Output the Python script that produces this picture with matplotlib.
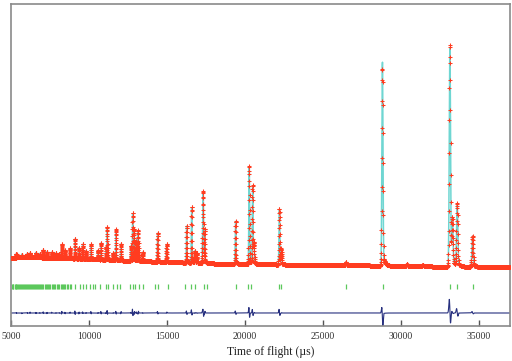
import numpy as np
import matplotlib.pyplot as plt

plt.rcParams['font.family'] = ['Liberation Serif', 'DejaVu Serif']

# background level (time of flight in us, intensity)
bg_tof = [5000, 6000, 7000, 8000, 9000, 10000, 12000, 14000, 16000, 18000,
          20000, 24000, 28000, 32000, 37000]
bg_int = [10.5, 10.5, 10.5, 10, 9.5, 9, 7.5, 6.5, 5.5, 4.5, 4, 3, 2.5, 1.5, 1]

# peaks: position, observed height, calculated height, calc position offset
peak_tof = [5350, 5700, 6050, 6220, 6600, 6850, 7071, 7308, 7609, 7885, 8100,
            8250, 8462, 8782, 9103, 9359, 9596, 9808, 10128, 10577, 10769,
            11090, 11173, 11558, 11731, 12051, 12692, 12801, 12904, 13045,
            13160, 13442, 14404, 14981, 16263, 16583, 16795, 16923, 17288,
            17327, 17420, 19403, 20276, 20494, 20576, 22212, 22330, 26474,
            28817, 30388, 31413, 33143, 33303, 33611, 34599]
peak_obs = [4, 3, 4, 5, 5, 4, 8, 6, 6, 5, 4,
            14, 8, 10, 20, 11, 15, 8, 15, 9, 17,
            13, 33, 7, 31, 17, 15, 48, 32, 20,
            31, 9, 29, 18, 37, 56, 12, 10, 25,
            67, 33, 43, 98, 79, 20, 56, 15, 3,
            198, 2, 1.5, 222, 45, 63, 31]
peak_calc = [4, 3.5, 4, 4.5, 5, 4, 7.5, 6, 5.5, 5, 4,
             13.5, 8, 9.5, 19.5, 11, 14.5, 8, 14.5, 9, 16.5,
             13, 32, 7, 30.5, 16.5, 15, 47, 32, 19.5,
             30.5, 9, 28.5, 17.5, 36.5, 55, 12, 10, 24.5,
             66, 32.5, 42.5, 97, 78, 20, 55, 15, 3,
             204, 2, 1.5, 219, 44, 62, 30.5]
peak_shift = [1, -1, 1, -1.5, 1.5, -1, 1.5, -1.5, 1, -1, 1,
              -1.5, 1.5, -1, 1.5, -1.5, 1, -1, 1.5, -1, 1.5,
              -1, 1.2, -1, 1, -1.5, 1, 1.7, -1.2, 1,
              -1.2, 1, 1.2, -1, 1.5, 1.5, -1, 1, 1.5,
              2, -1.5, 1.5, 2, 1.5, -1, 2.4, -1, 1,
              2.5, 1, 0.5, 3.5, 1.5, 4, 2.5]

# reflection markers (us)
tick_tof = [5050, 5110, 5160, 5230, 5290, 5340, 5400, 5470, 5520, 5590, 5650,
            5700, 5780, 5840, 5900, 5960, 6030, 6090, 6150, 6220, 6280, 6350,
            6410, 6480, 6540, 6600, 6680, 6740, 6810, 6870, 6950, 7020, 7070,
            7150, 7230, 7300, 7380, 7450, 7530, 7600, 7690, 7770, 7850, 7930,
            8020, 8110, 8200, 8250, 8320, 8400, 8460, 8560, 8640, 8780, 8850,
            9103, 9423, 9596, 9808, 10064, 10237, 10385, 10705, 11090, 11237,
            11558, 11775, 11987, 12628, 12801, 12949, 13224, 13481, 14231,
            14445, 15045, 16154, 16519, 16795, 17372, 17544, 19403, 20212,
            20365, 22200, 22330, 26474, 28824, 33160, 33611, 34599]


def peak(t, pos, h):
    s = 0.0012 * pos
    tau = 0.004 * pos
    g = np.exp(-0.5 * ((t - pos) / s) ** 2)
    tail = np.where(t > pos, 0.08 * np.exp(-(t - pos) / tau), 0)
    return h * np.maximum(g, tail)


tof = 5000 * np.exp(np.arange(0, np.log(37000 / 5000), 0.0003))
obs = np.interp(tof, bg_tof, bg_int)
calc = np.interp(tof, bg_tof, bg_int)
for p, ho, hc, d in zip(peak_tof, peak_obs, peak_calc, peak_shift):
    obs = obs + peak(tof, p, ho)
    calc = calc + peak(tof, p + d, hc)
diff = obs - calc

fig = plt.figure(figsize=(5.12, 3.61), dpi=100)
ax = fig.add_axes([11/512, 35/361, 499/512, 322/361])

ax.plot(tof, calc, color='#6fd6d2', lw=1.1, zorder=2)
ax.plot(tof, obs, '+', color='#ff3c20', ms=3.4, mew=0.75, zorder=3)
ax.vlines(tick_tof, -21, -16, color='#5cc85c', lw=0.9)
ax.plot(tof, diff - 45, color='#27307f', lw=0.8)

ax.set_xlim(5000, 37000)
ax.set_ylim(-58, 264)
ax.set_yticks([])
ax.set_xticks(range(5000, 35001, 5000))
ax.tick_params(axis='x', direction='in', length=4, width=1, color='#555555',
               labelsize=7, pad=4, labelcolor='#333333')
for sp in ax.spines.values():
    sp.set_color('#8a8a8a')
    sp.set_linewidth(1.2)

ax.set_xlabel('Time of flight (\u00b5s)', fontsize=8.5, color='#222222')
ax.xaxis.set_label_coords(0.521, -0.062)

plt.savefig('out.png', dpi=100)
